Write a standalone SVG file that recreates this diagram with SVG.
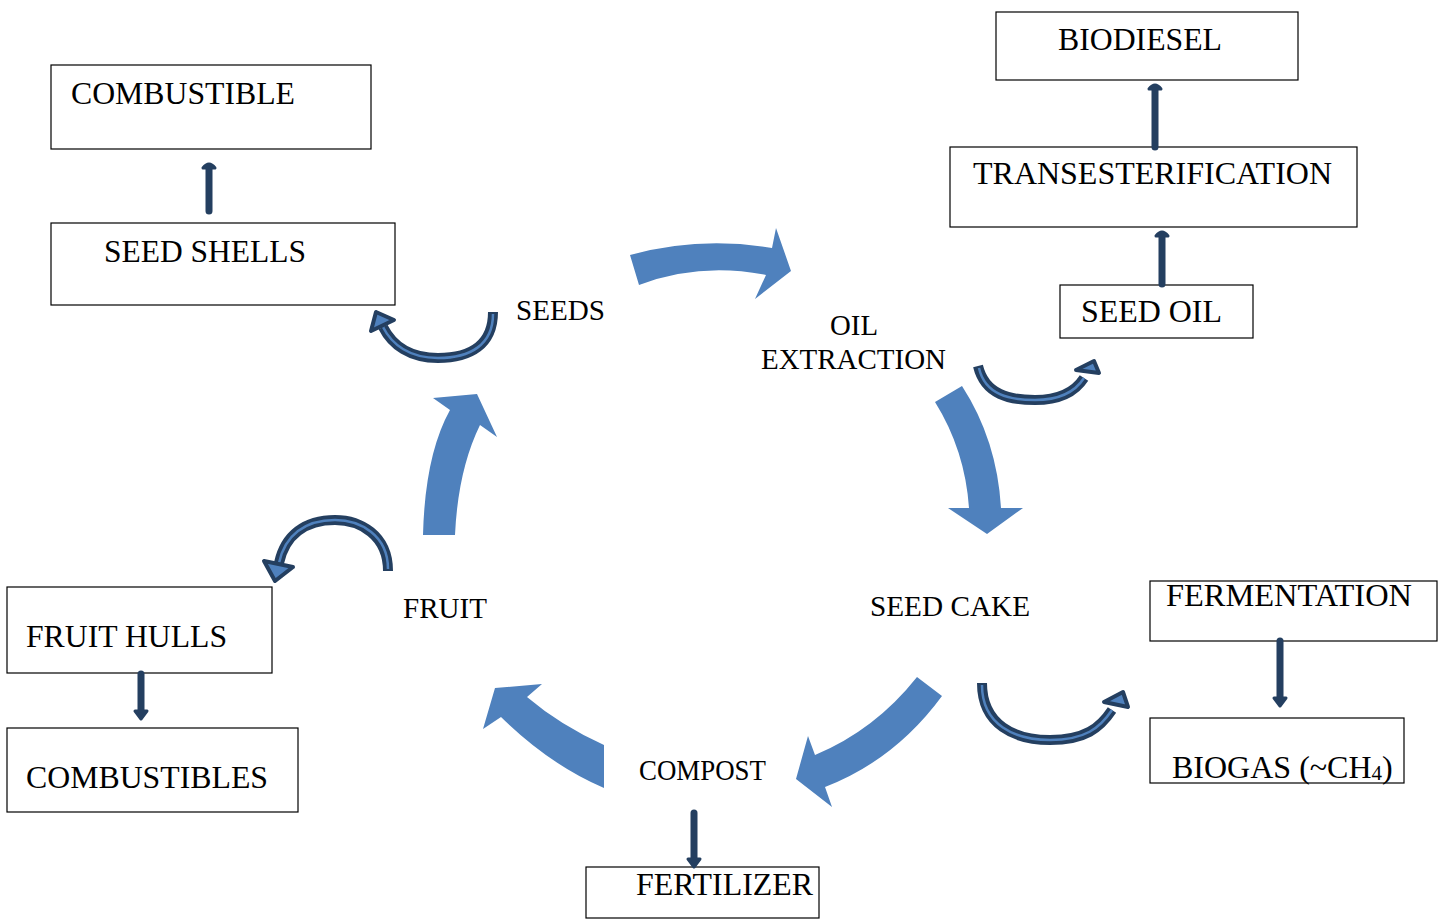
<svg xmlns="http://www.w3.org/2000/svg" width="1440" height="919" viewBox="0 0 1440 919">
<style>
.box{fill:#fff;stroke:#000;stroke-width:1.2}
.t{font-family:"Liberation Serif","Times New Roman",serif;font-size:32px;fill:#000}
.l{font-family:"Liberation Serif","Times New Roman",serif;font-size:29px;fill:#000}
.big{fill:#4F81BD}
.cd{fill:none;stroke:#243F60;stroke-width:10;stroke-linecap:butt}
.cb{fill:none;stroke:#4F81BD;stroke-width:2.5}
.hd{fill:#4F81BD;stroke:#243F60;stroke-width:4;stroke-linejoin:round}
.st{stroke:#243F60;stroke-width:7;stroke-linecap:round;fill:none}
.sh{fill:#243F60;stroke:#243F60;stroke-width:3;stroke-linejoin:round}
</style>
<rect width="1440" height="919" fill="#fff"/>
<g id="combustible"><rect class="box" x="51" y="65" width="320" height="84"/><text class="t" x="71" y="104" textLength="224" lengthAdjust="spacingAndGlyphs">COMBUSTIBLE</text></g>
<g id="seed-shells"><rect class="box" x="51" y="223" width="344" height="82"/><text class="t" x="104" y="262" textLength="202" lengthAdjust="spacingAndGlyphs">SEED SHELLS</text></g>
<g id="biodiesel"><rect class="box" x="996" y="12" width="302" height="68"/><text class="t" x="1058" y="50" textLength="164" lengthAdjust="spacingAndGlyphs">BIODIESEL</text></g>
<g id="transesterification"><rect class="box" x="950" y="147" width="407" height="80"/><text class="t" x="973" y="184" textLength="359" lengthAdjust="spacingAndGlyphs">TRANSESTERIFICATION</text></g>
<g id="seed-oil"><rect class="box" x="1060" y="285" width="193" height="53"/><text class="t" x="1081" y="322" textLength="141" lengthAdjust="spacingAndGlyphs">SEED OIL</text></g>
<g id="fermentation"><rect class="box" x="1150" y="581" width="287" height="60"/><text class="t" x="1166" y="606" textLength="246" lengthAdjust="spacingAndGlyphs">FERMENTATION</text></g>
<g id="biogas"><rect class="box" x="1150" y="718" width="254" height="65"/><text class="t" x="1172" y="778">BIOGAS (~CH<tspan font-size="21" dy="2">4</tspan><tspan dy="-2">)</tspan></text></g>
<g id="fruit-hulls"><rect class="box" x="7" y="587" width="265" height="86"/><text class="t" x="26" y="647" textLength="201" lengthAdjust="spacingAndGlyphs">FRUIT HULLS</text></g>
<g id="combustibles"><rect class="box" x="7" y="728" width="291" height="84"/><text class="t" x="26" y="788" textLength="242" lengthAdjust="spacingAndGlyphs">COMBUSTIBLES</text></g>
<g id="fertilizer"><rect class="box" x="586" y="867" width="233" height="51"/><text class="t" x="636" y="895" textLength="177" lengthAdjust="spacingAndGlyphs">FERTILIZER</text></g>
<g id="seeds"><text class="l" x="516" y="320" textLength="89" lengthAdjust="spacingAndGlyphs">SEEDS</text></g>
<g id="oil-extraction"><text class="l" x="830" y="335" textLength="48" lengthAdjust="spacingAndGlyphs">OIL</text><text class="l" x="761" y="369" textLength="185" lengthAdjust="spacingAndGlyphs">EXTRACTION</text></g>
<g id="seed-cake"><text class="l" x="870" y="616" textLength="160" lengthAdjust="spacingAndGlyphs">SEED CAKE</text></g>
<g id="fruit"><text class="l" x="403" y="618" textLength="84" lengthAdjust="spacingAndGlyphs">FRUIT</text></g>
<g id="compost"><text class="l" x="639" y="780" textLength="127" lengthAdjust="spacingAndGlyphs">COMPOST</text></g>
<g id="connectors">
<path class="big" d="M630,255 Q700,236 772,248 L776,228 L791,271 L755,299 L766,275 Q700,262 639,285 Z"/>
<path class="big" d="M935,402 L962,386 Q997,440 1001,508 L1023,508 L987,534 L948,508 L969,508 Q965,450 935,402 Z"/>
<path class="big" d="M917,677 L942,696 Q895,760 825,787 L832,807 L796,779 L808,736 L815,755 Q875,730 917,677 Z"/>
<path class="big" d="M604,745 Q560,725 527,697 L542,684 L495,688 L483,729 L501,717 Q550,765 604,788 Z"/>
<path class="big" d="M423,535 Q425,455 450,410 L433,398 L477,394 L497,437 L480,425 Q458,470 455,535 Z"/>
<path class="cd" d="M493,312 C493,345 470,358 438,358 C410,358 392,345 383,327"/>
<path class="cb" d="M493,314 C493,345 470,358 438,358 C410,358 392,345 383,327"/>
<polygon class="hd" points="376,312 394,320 371,331"/>
<path class="cd" d="M978,366 C985,395 1010,400 1035,400 C1060,400 1075,392 1084,378"/>
<path class="cb" d="M979,368 C985,395 1010,400 1035,400 C1060,400 1075,392 1084,378"/>
<polygon class="hd" points="1094,361 1099,373 1076,370"/>
<path class="cd" d="M982,683 C982,725 1015,740 1050,740 C1085,740 1100,728 1112,710"/>
<path class="cb" d="M982,685 C982,725 1015,740 1050,740 C1085,740 1100,728 1112,710"/>
<polygon class="hd" points="1123,692 1128,707 1104,702"/>
<path class="cd" d="M388,571 C388,535 360,520 335,520 C305,520 285,535 279,563"/>
<path class="cb" d="M388,569 C388,535 360,520 335,520 C305,520 285,535 279,563"/>
<polygon class="hd" points="275,581 264,561 293,567"/>
<path class="st" d="M209,211 V168"/><path class="sh" d="M203,168 Q209,160 215,168 Z"/>
<path class="st" d="M1162,284 V236"/><path class="sh" d="M1156,236 Q1162,228 1168,236 Z"/>
<path class="st" d="M1155,147 V89"/><path class="sh" d="M1149,89 Q1155,81 1161,89 Z"/>
<path class="st" d="M141,674 V711"/><path class="sh" d="M135,711 L141,719 L147,711 Z"/>
<path class="st" d="M1280,641 V698"/><path class="sh" d="M1274,698 L1280,706 L1286,698 Z"/>
<path class="st" d="M694,813 V859"/><path class="sh" d="M688,859 L694,867 L700,859 Z"/>
</g>
</svg>
